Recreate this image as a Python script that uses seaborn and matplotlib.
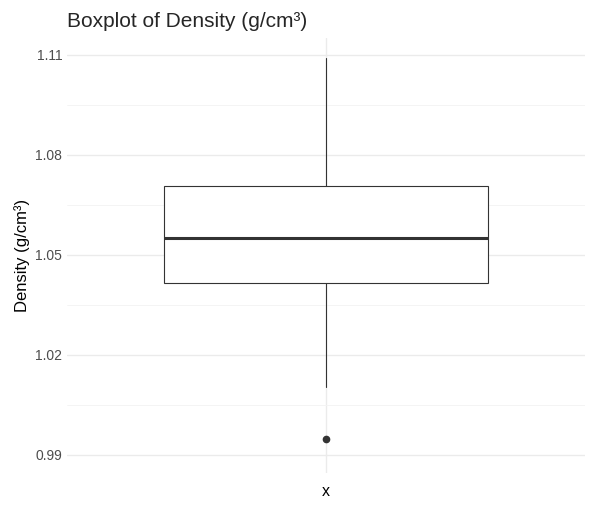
import matplotlib
matplotlib.use("Agg")
import matplotlib.pyplot as plt
import seaborn as sns

# summary values
label = "x"
whisker_low = 1.0104
q1 = 1.0416
median = 1.0551
q3 = 1.0707
whisker_high = 1.1091
outliers = [0.9948]

sns.set_theme(style="whitegrid")
plt.rcParams['font.family'] = ['Liberation Sans', 'DejaVu Sans']

fig = plt.figure(figsize=(5.95, 5.13), dpi=100)
ax = fig.add_axes([0.113, 0.078, 0.87, 0.848])

stats = [dict(label=label, whislo=whisker_low, q1=q1, med=median, q3=q3,
              whishi=whisker_high, fliers=outliers)]
ax.bxp(stats, positions=[1], widths=0.75, showcaps=False, patch_artist=True,
       boxprops=dict(facecolor="white", edgecolor="#333333", linewidth=0.8),
       whiskerprops=dict(color="#333333", linewidth=0.8),
       medianprops=dict(color="#333333", linewidth=2.2),
       flierprops=dict(marker="o", markerfacecolor="#333333", markeredgecolor="#333333",
                       markersize=4.5))

ax.set_xlim(0.4, 1.6)
ax.set_ylim(0.9846, 1.1151)
ax.set_yticks([0.99, 1.02, 1.05, 1.08, 1.11])
ax.set_yticklabels(["0.99", "1.02", "1.05", "1.08", "1.11"])
ax.set_yticks([1.005, 1.035, 1.065, 1.095], minor=True)
ax.grid(True, which="major", color="#ebebeb", linewidth=1.0)
ax.grid(True, which="minor", axis="y", color="#f3f3f3", linewidth=0.6)
ax.set_axisbelow(True)
for s in ax.spines.values():
    s.set_visible(False)
ax.tick_params(axis="both", which="both", length=0, labelsize=10, labelcolor="#4d4d4d")
ax.tick_params(axis="x", labelsize=11.5, labelcolor="black", pad=8)
ax.set_ylabel("Density (g/cm³)", fontsize=12, color="black")
ax.set_title("Boxplot of Density (g/cm³)", fontsize=15, loc="left", x=0.0, pad=8)
ax.set_xlabel("")

fig.savefig("out.png", dpi=100)
